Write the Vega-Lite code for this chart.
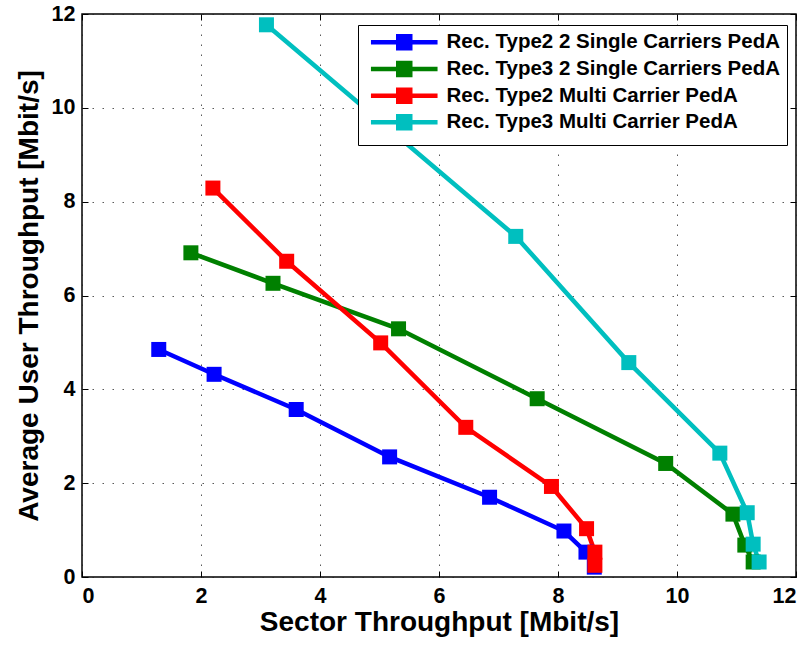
{
  "$schema": "https://vega.github.io/schema/vega-lite/v6.json",
  "width": 714,
  "height": 563,
  "autosize": "none",
  "padding": {"left": 82, "top": 14, "right": 14, "bottom": 71},
  "background": "white",
  "config": {
    "font": "Liberation Sans",
    "view": {"stroke": "black", "strokeWidth": 1.5},
    "axis": {
      "labelFont": "Liberation Sans",
      "labelFontWeight": "bold",
      "labelFontSize": 21.5,
      "labelColor": "black",
      "titleFont": "Liberation Sans",
      "titleFontWeight": "bold",
      "titleFontSize": 28,
      "titleColor": "black",
      "domain": false,
      "tickColor": "black",
      "tickWidth": 1,
      "tickSize": -6,
      "gridColor": "#222",
      "gridDash": [1.5, 8.5],
      "gridWidth": 1,
      "gridOpacity": 0.75
    }
  },
  "data": {
    "values": [
      {"s": "Rec. Type2 2 Single Carriers PedA", "i": 1, "x": 1.29, "y": 4.85},
      {"s": "Rec. Type2 2 Single Carriers PedA", "i": 2, "x": 2.22, "y": 4.32},
      {"s": "Rec. Type2 2 Single Carriers PedA", "i": 3, "x": 3.60, "y": 3.57},
      {"s": "Rec. Type2 2 Single Carriers PedA", "i": 4, "x": 5.17, "y": 2.56},
      {"s": "Rec. Type2 2 Single Carriers PedA", "i": 5, "x": 6.85, "y": 1.70},
      {"s": "Rec. Type2 2 Single Carriers PedA", "i": 6, "x": 8.10, "y": 0.98},
      {"s": "Rec. Type2 2 Single Carriers PedA", "i": 7, "x": 8.47, "y": 0.53},
      {"s": "Rec. Type2 2 Single Carriers PedA", "i": 8, "x": 8.61, "y": 0.21},
      {"s": "Rec. Type3 2 Single Carriers PedA", "i": 1, "x": 1.83, "y": 6.91},
      {"s": "Rec. Type3 2 Single Carriers PedA", "i": 2, "x": 3.21, "y": 6.26},
      {"s": "Rec. Type3 2 Single Carriers PedA", "i": 3, "x": 5.32, "y": 5.29},
      {"s": "Rec. Type3 2 Single Carriers PedA", "i": 4, "x": 7.65, "y": 3.80},
      {"s": "Rec. Type3 2 Single Carriers PedA", "i": 5, "x": 9.81, "y": 2.42},
      {"s": "Rec. Type3 2 Single Carriers PedA", "i": 6, "x": 10.94, "y": 1.34},
      {"s": "Rec. Type3 2 Single Carriers PedA", "i": 7, "x": 11.14, "y": 0.68},
      {"s": "Rec. Type3 2 Single Carriers PedA", "i": 8, "x": 11.28, "y": 0.32},
      {"s": "Rec. Type2 Multi Carrier PedA", "i": 1, "x": 2.20, "y": 8.29},
      {"s": "Rec. Type2 Multi Carrier PedA", "i": 2, "x": 3.44, "y": 6.73},
      {"s": "Rec. Type2 Multi Carrier PedA", "i": 3, "x": 5.02, "y": 4.99},
      {"s": "Rec. Type2 Multi Carrier PedA", "i": 4, "x": 6.45, "y": 3.19},
      {"s": "Rec. Type2 Multi Carrier PedA", "i": 5, "x": 7.89, "y": 1.93},
      {"s": "Rec. Type2 Multi Carrier PedA", "i": 6, "x": 8.48, "y": 1.03},
      {"s": "Rec. Type2 Multi Carrier PedA", "i": 7, "x": 8.62, "y": 0.53},
      {"s": "Rec. Type2 Multi Carrier PedA", "i": 8, "x": 8.62, "y": 0.25},
      {"s": "Rec. Type3 Multi Carrier PedA", "i": 1, "x": 3.10, "y": 11.77},
      {"s": "Rec. Type3 Multi Carrier PedA", "i": 2, "x": 7.29, "y": 7.26},
      {"s": "Rec. Type3 Multi Carrier PedA", "i": 3, "x": 9.19, "y": 4.57},
      {"s": "Rec. Type3 Multi Carrier PedA", "i": 4, "x": 10.72, "y": 2.64},
      {"s": "Rec. Type3 Multi Carrier PedA", "i": 5, "x": 11.18, "y": 1.37},
      {"s": "Rec. Type3 Multi Carrier PedA", "i": 6, "x": 11.28, "y": 0.70},
      {"s": "Rec. Type3 Multi Carrier PedA", "i": 7, "x": 11.38, "y": 0.32}
    ]
  },
  "layer": [
    {
      "mark": {"type": "line", "strokeWidth": 4.5, "clip": true},
      "encoding": {
        "x": {"field": "x", "type": "quantitative", "scale": {"domain": [0, 12], "nice": false},
              "axis": {"orient": "bottom", "values": [0, 2, 4, 6, 8, 10, 12], "title": "Sector Throughput [Mbit/s]", "grid": true, "labelPadding": 14, "titlePadding": 2}},
        "y": {"field": "y", "type": "quantitative", "scale": {"domain": [0, 12], "nice": false},
              "axis": {"orient": "left", "values": [0, 2, 4, 6, 8, 10, 12], "title": "Average User Throughput [Mbit/s]", "grid": true, "labelPadding": 13, "titlePadding": 8}},
        "color": {"field": "s", "type": "nominal",
                  "scale": {"domain": ["Rec. Type2 2 Single Carriers PedA", "Rec. Type3 2 Single Carriers PedA", "Rec. Type2 Multi Carrier PedA", "Rec. Type3 Multi Carrier PedA"],
                            "range": ["#0000ff", "#008000", "#ff0000", "#00bfbf"]},
                  "legend": {
                    "title": null,
                    "orient": "none",
                    "legendX": 276,
                    "legendY": 11,
                    "strokeColor": "black",
                    "fillColor": "white",
                    "padding": 7,
                    "labelFont": "Liberation Sans",
                    "labelFontWeight": "bold",
                    "labelFontSize": 20.5,
                    "labelColor": "black",
                    "labelLimit": 600,
                    "symbolType": "M-4.44,0H4.44M-0.8,-0.8H0.8V0.8H-0.8Z",
                    "symbolSize": 225,
                    "symbolStrokeWidth": 4.5,
                    "symbolOpacity": 1,
                    "symbolOffset": 29,
                    "labelOffset": 32,
                    "rowPadding": -4.3,
                    "encode": {"symbols": {"update": {"fill": {"scale": "color", "field": "value"}, "stroke": {"scale": "color", "field": "value"}, "fillOpacity": {"value": 1}, "strokeOpacity": {"value": 1}}}}
                  }},
        "order": {"field": "i", "type": "quantitative"}
      }
    },
    {
      "mark": {"type": "point", "shape": "square", "filled": true, "size": 225, "opacity": 1},
      "encoding": {
        "x": {"field": "x", "type": "quantitative", "scale": {"domain": [0, 12], "nice": false},
              "axis": {"orient": "top", "values": [0, 2, 4, 6, 8, 10, 12], "labels": false, "title": null, "grid": false}},
        "y": {"field": "y", "type": "quantitative", "scale": {"domain": [0, 12], "nice": false},
              "axis": {"orient": "right", "values": [0, 2, 4, 6, 8, 10, 12], "labels": false, "title": null, "grid": false}},
        "color": {"field": "s", "type": "nominal", "legend": null}
      }
    }
  ],
  "resolve": {"axis": {"x": "independent", "y": "independent"}}
}
